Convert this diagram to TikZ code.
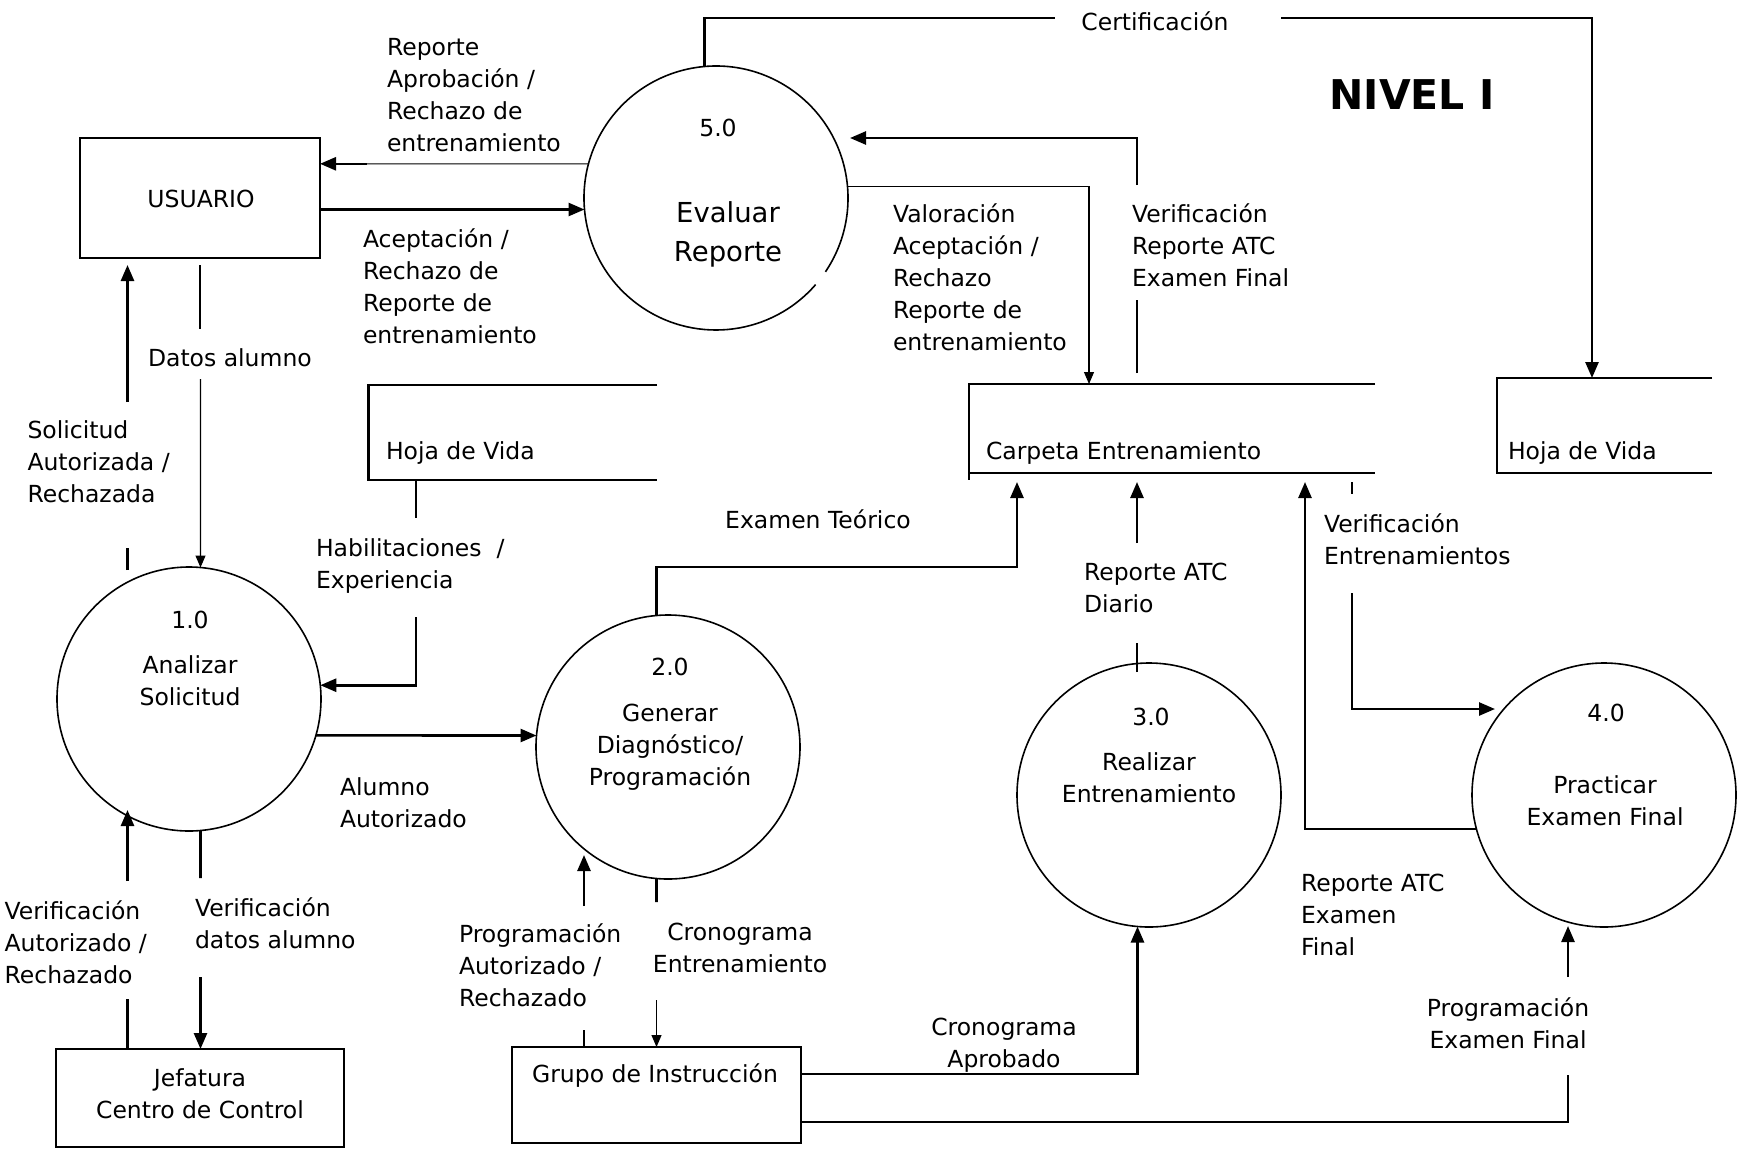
\documentclass[tikz,border=0pt]{standalone}
\usepackage{fontspec}
\setmainfont{DejaVu Sans}
\usetikzlibrary{arrows.meta}
\begin{document}
\begin{tikzpicture}[x=1pt, y=-1pt,
  every node/.style={inner sep=0pt, outer sep=0pt},
  base/.style={font=\fontsize{23.5}{32}\selectfont},
  lbl/.style={base, align=left, anchor=north west, execute at begin node=\strut},
  clbl/.style={base, align=center, anchor=north, execute at begin node=\strut},
  word/.style={base, anchor=center},
  proc/.style={circle, draw, line width=1.6pt, minimum size=264pt},
  ent/.style={rectangle, draw, line width=1.8pt},
  flow/.style={line width=2.6pt, -{Triangle[length=16pt,width=13pt]}},
  wire/.style={line width=2.6pt},
  fine/.style={line width=1.1pt},
  fineflow/.style={line width=1.1pt, -{Triangle[length=12pt,width=10pt]}},
  store/.style={line width=2.4pt},
]
\fill[white] (0,0) rectangle (1745,1152);
\useasboundingbox (0,0) rectangle (1745,1152);

% external entities
\node[ent, minimum width=240pt, minimum height=120pt] (usr) at (200,198) {};
\node[word] (usrT) at (201,199) {USUARIO};
\node[ent, minimum width=288pt, minimum height=98pt] (jef) at (200,1098) {};
\node[clbl] (jefT) at (200,1069) {Jefatura\\Centro de Control};
\node[ent, minimum width=289pt, minimum height=96pt] (grp) at (656.5,1095) {};
\node[word] (grpT) at (655,1076) {Grupo de Instrucción};

% processes
\node[proc] (p1) at (189,699) {};
\node[proc] (p2) at (668,747) {};
\node[proc] (p3) at (1149,795) {};
\node[proc] (p4) at (1604,795) {};
\node[proc, draw=none] (p5) at (716,198) {};
\draw[line width=1.6pt] (p5.-34) arc[start angle=34, end angle=-319, radius=132];

\node[clbl] (p5n) at (718,114) {5.0};
\node[clbl, font=\fontsize{27.5}{39}\selectfont] (p5t) at (728,202) {Evaluar\\Reporte};
\node[clbl] (p1n) at (190,606) {1.0};
\node[clbl] (p1t) at (190,656) {Analizar\\Solicitud};
\node[clbl] (p2n) at (670,653) {2.0};
\node[clbl] (p2t) at (670,704) {Generar\\Diagnóstico/\\Programación};
\node[clbl] (p3n) at (1151,703) {3.0};
\node[clbl] (p3t) at (1149,753) {Realizar\\Entrenamiento};
\node[clbl] (p4n) at (1606,699) {4.0};
\node[clbl] (p4t) at (1605,776) {Practicar\\Examen Final};

% data stores
\draw[store] (657,385) -- (368.5,385) -- (368.5,480) -- (657,480);
\node[lbl] (hv1) at (386,437) {Hoja de Vida};
\draw[store] (1375,384) -- (969,384) -- (969,480);
\draw[store] (969,473) -- (1375,473);
\node[lbl] (ce) at (986,437) {Carpeta Entrenamiento};
\draw[store] (1712,378) -- (1497,378) -- (1497,473) -- (1712,473);
\node[lbl] (hv2) at (1508,437) {Hoja de Vida};

\node[font=\fontsize{41}{49}\selectfont\bfseries] (title) at (1412,95) {NIVEL I};

% Certificación
\coordinate (certL) at (1055,18);
\coordinate (certR) at (1281,18);
\coordinate (hv2in) at (1592,378);
\node[clbl] (certT) at (1155,8) {Certificación};
\draw[wire] (p5.95) |- (certL);
\draw[flow] (certR) -| (hv2in);

% 5.0 -> USUARIO
\coordinate (rapK) at (367,163.8);
\coordinate (usrR1) at (320,163.8);
\draw[fine] (p5.165) -- (rapK);
\draw[flow] (rapK) -- (usrR1);
\node[lbl] (lA) at (387,38) {Reporte\\Aprobación /\\Rechazo de\\entrenamiento};

% USUARIO -> 5.0
\coordinate (usrR2) at (320,209.5);
\draw[flow] (usrR2) -- (p5.185);
\node[lbl] (lB) at (363,229) {Aceptación /\\Rechazo de\\Reporte de\\entrenamiento};

% 5.0 -> Carpeta
\coordinate (ceV) at (1089,384);
\draw[fineflow] (p5.5) -| (ceV);
\node[lbl] (lC) at (893,204) {Valoración\\Aceptación /\\Rechazo\\Reporte de\\entrenamiento};

% Carpeta -> 5.0
\coordinate (vrA) at (1137,373);
\coordinate (vrB) at (1137,300);
\coordinate (vrC) at (1137,185);
\coordinate (vrD) at (850,138);
\draw[wire] (vrA) -- (vrB);
\draw[flow] (vrC) |- (vrD);
\node[lbl] (lD) at (1132,204) {Verificación\\Reporte ATC\\Examen Final};

% USUARIO -> 1.0
\coordinate (daA) at (200,265);
\coordinate (daB) at (200,329);
\coordinate (daC) at (200.5,379);
\draw[wire] (daA) -- (daB);
\draw[fineflow] (daC) -- (p1.85);
\node[lbl] (lE) at (148,344) {Datos alumno};

% 1.0 -> USUARIO
\coordinate (saA) at (127.5,570);
\coordinate (saB) at (127.5,548);
\coordinate (saC) at (127.5,402);
\coordinate (saD) at (127.5,265);
\draw[wire] (saA) -- (saB);
\draw[flow] (saC) -- (saD);
\node[lbl] (lF) at (27.5,421) {Solicitud\\Autorizada /\\Rechazada};

% Hoja de Vida -> 1.0
\coordinate (haA) at (416,480);
\coordinate (haB) at (416,518);
\coordinate (haC) at (416,617);
\draw[wire] (haA) -- (haB);
\draw[flow] (haC) |- (p1.6);
\node[lbl] (lG) at (316,539) {Habilitaciones~ /\\Experiencia};

% 1.0 -> 2.0
\draw[flow] (p1.-16) -- (p2.175);
\node[lbl] (lK) at (340,778) {Alumno\\Autorizado};

% 2.0 -> Carpeta
\coordinate (etC) at (1017,567);
\coordinate (ceE) at (1017,482);
\draw[flow] (p2.95) |- (etC) -- (ceE);
\node[clbl] (lH) at (818,506) {Examen Teórico};

% 3.0 -> Carpeta
\coordinate (rdA) at (1137,672);
\coordinate (rdB) at (1137,643);
\coordinate (rdC) at (1137,543);
\coordinate (ceR) at (1137,482);
\draw[wire] (rdA) -- (rdB);
\draw[flow] (rdC) -- (ceR);
\node[lbl] (lI) at (1084,563) {Reporte ATC\\Diario};

% Carpeta -> 4.0
\coordinate (veA) at (1352,482);
\coordinate (veB) at (1352,494);
\coordinate (veC) at (1352,593);
\coordinate (veD) at (1495,709);
\draw[wire] (veA) -- (veB);
\draw[flow] (veC) |- (veD);
\node[lbl] (lJ) at (1324,514) {Verificación\\Entrenamientos};

% 4.0 -> Carpeta
\coordinate (ceX) at (1305,482);
\draw[flow] (p4.195) -| (ceX);
\node[lbl] (lL) at (1301,874) {Reporte ATC\\Examen\\Final};

% Grupo -> 4.0
\coordinate (pfA) at (801,1122);
\coordinate (pfB) at (1568,1075);
\coordinate (pfC) at (1568,977);
\coordinate (pfD) at (1568,926);
\draw[wire] (pfA) -| (pfB);
\draw[flow] (pfC) -- (pfD);
\node[clbl] (lR) at (1508,998) {Programación\\Examen Final};

% Grupo -> 3.0
\coordinate (caA) at (801,1074);
\draw[flow] (caA) -| (p3.265);
\node[clbl] (lQ) at (1004,1018) {Cronograma\\Aprobado};

% Grupo -> 2.0
\coordinate (paA) at (584,1047);
\coordinate (paB) at (584,1030);
\coordinate (paC) at (584,906);
\coordinate (paD) at (584,855);
\draw[wire] (paA) -- (paB);
\draw[flow] (paC) -- (paD);
\node[lbl] (lO) at (459,924) {Programación\\Autorizado /\\Rechazado};

% 2.0 -> Grupo
\coordinate (crA) at (656.5,902);
\coordinate (crB) at (656.5,1000);
\coordinate (crC) at (656.5,1047);
\draw[wire] (p2.265) -- (crA);
\draw[fineflow] (crB) -- (crC);
\node[clbl] (lP) at (740,923) {Cronograma\\Entrenamiento};

% Jefatura -> 1.0
\coordinate (vaA) at (127.5,1049);
\coordinate (vaB) at (127.5,999);
\coordinate (vaC) at (127.5,881);
\coordinate (vaD) at (127.5,810);
\draw[wire] (vaA) -- (vaB);
\draw[flow] (vaC) -- (vaD);
\node[lbl] (lM) at (4.6,901) {Verificación\\Autorizado /\\Rechazado};

% 1.0 -> Jefatura
\coordinate (vdA) at (200.5,878);
\coordinate (vdB) at (200.5,977);
\coordinate (vdC) at (200.5,1049);
\draw[wire] (p1.275) -- (vdA);
\draw[flow] (vdB) -- (vdC);
\node[lbl] (lN) at (195,898) {Verificación\\datos alumno};

\end{tikzpicture}
\end{document}
